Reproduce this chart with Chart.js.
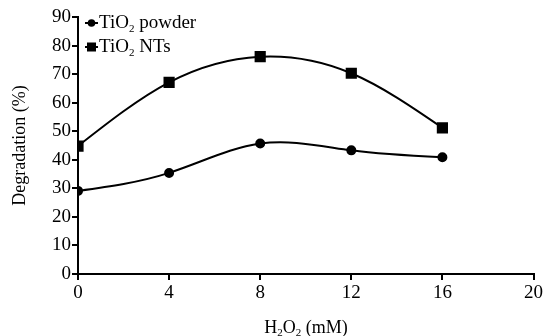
<!DOCTYPE html>
<html>
<head>
<meta charset="utf-8">
<script src="https://cdn.jsdelivr.net/npm/chart.js@4"></script>
<style>
  html, body { margin: 0; padding: 0; background: #fff; }
  #wrap { width: 545px; height: 336px; }
</style>
</head>
<body>
<div id="wrap"><canvas id="chart" width="545" height="336"></canvas></div>
<script>
// H2O2 concentration (mM)
const concentrations = [0, 4, 8, 12, 16];
const powderValues = [29.1, 35.4, 45.7, 43.3, 40.9];
const ntsValues = [44.8, 67.1, 76.1, 70.3, 51.2];
const seriesNames = ['powder', 'NTs'];

const serif = 'Liberation Serif';

function toPoints(values) {
    return concentrations.map((x, i) => ({ x: x, y: values[i] }));
}

// replace chart.js bezier handles with a natural cubic spline (pixel space)
const naturalSpline = {
    id: 'naturalSpline',
    beforeDatasetDraw(chart, args) {
        const meta = args.meta;
        const line = meta.dataset;
        line.updateControlPoints(chart.chartArea, 'x');
        const pts = meta.data;
        const n = pts.length;
        if (n < 3) return;
        const xs = pts.map(p => p.x);
        const ys = pts.map(p => p.y);
        const h = [];
        for (let i = 0; i < n - 1; i++) h.push(xs[i + 1] - xs[i]);
        // tridiagonal solve for second derivatives, M0 = Mn-1 = 0
        const a = [], b = [], c = [], d = [];
        for (let i = 1; i < n - 1; i++) {
            a.push(h[i - 1]);
            b.push(2 * (h[i - 1] + h[i]));
            c.push(h[i]);
            d.push(6 * ((ys[i + 1] - ys[i]) / h[i] - (ys[i] - ys[i - 1]) / h[i - 1]));
        }
        const m = d.length;
        for (let i = 1; i < m; i++) {
            const w = a[i] / b[i - 1];
            b[i] -= w * c[i - 1];
            d[i] -= w * d[i - 1];
        }
        const inner = new Array(m);
        for (let i = m - 1; i >= 0; i--) {
            inner[i] = (d[i] - (i < m - 1 ? c[i] * inner[i + 1] : 0)) / b[i];
        }
        const M = [0, ...inner, 0];
        const slope = [];
        for (let i = 0; i < n; i++) {
            if (i < n - 1) {
                slope.push((ys[i + 1] - ys[i]) / h[i] - h[i] * (2 * M[i] + M[i + 1]) / 6);
            } else {
                slope.push((ys[i] - ys[i - 1]) / h[i - 1] + h[i - 1] * (M[i - 1] + 2 * M[i]) / 6);
            }
        }
        for (let i = 0; i < n; i++) {
            const p = pts[i];
            const hl = i > 0 ? h[i - 1] : 0;
            const hr = i < n - 1 ? h[i] : 0;
            p.cp1x = xs[i] - hl / 3;
            p.cp1y = ys[i] - slope[i] * hl / 3;
            p.cp2x = xs[i] + hr / 3;
            p.cp2y = ys[i] + slope[i] * hr / 3;
        }
    }
};

// legend drawn inside chart area, with a subscript 2 in TiO2
const insideLegend = {
    id: 'insideLegend',
    afterDraw(chart) {
        const ctx = chart.ctx;
        const left = chart.chartArea.left + 7;
        const rows = [23, 47];
        ctx.save();
        chart.data.datasets.forEach((ds, i) => {
            const y = rows[i];
            ctx.strokeStyle = '#000';
            ctx.lineWidth = 2;
            ctx.beginPath();
            ctx.moveTo(left, y);
            ctx.lineTo(left + 13, y);
            ctx.stroke();
            ctx.fillStyle = '#000';
            if (ds.pointStyle === 'rect') {
                ctx.fillRect(left + 2, y - 4.5, 9, 9);
            } else {
                ctx.beginPath();
                ctx.arc(left + 6.5, y, 3.8, 0, Math.PI * 2);
                ctx.fill();
            }
            let x = left + 14;
            ctx.textBaseline = 'middle';
            ctx.textAlign = 'left';
            ctx.font = '19px ' + serif;
            ctx.fillText('TiO', x, y);
            x += ctx.measureText('TiO').width;
            ctx.font = '11px ' + serif;
            ctx.fillText('2', x, y + 6);
            x += ctx.measureText('2').width;
            ctx.font = '19px ' + serif;
            ctx.fillText(' ' + seriesNames[i], x, y);
        });
        ctx.restore();
    }
};

// x axis title with subscripts
const xTitle = {
    id: 'xTitle',
    afterDraw(chart) {
        const ctx = chart.ctx;
        const parts = [['H', 18], ['2', 11], ['O', 18], ['2', 11], [' (mM)', 18]];
        ctx.save();
        ctx.fillStyle = '#000';
        ctx.textBaseline = 'middle';
        ctx.textAlign = 'left';
        let total = 0;
        parts.forEach(p => { ctx.font = p[1] + 'px ' + serif; total += ctx.measureText(p[0]).width; });
        let x = 306 - total / 2;
        const y = 328;
        parts.forEach(p => {
            ctx.font = p[1] + 'px ' + serif;
            ctx.fillText(p[0], x, p[1] < 18 ? y + 5 : y);
            x += ctx.measureText(p[0]).width;
        });
        ctx.restore();
    }
};

new Chart(document.getElementById('chart'), {
    type: 'line',
    data: {
        datasets: [{
            label: 'TiO2 powder',
            data: toPoints(powderValues),
            borderColor: '#000',
            backgroundColor: '#000',
            borderWidth: 2,
            pointStyle: 'circle',
            pointRadius: 4,
            tension: 0.4,
            capBezierPoints: false
        }, {
            label: 'TiO2 NTs',
            data: toPoints(ntsValues),
            borderColor: '#000',
            backgroundColor: '#000',
            borderWidth: 2,
            pointStyle: 'rect',
            pointRadius: 6.5,
            tension: 0.4,
            capBezierPoints: false
        }]
    },
    options: {
        responsive: false,
        animation: false,
        layout: { padding: { top: 17, right: 10, left: 0, bottom: 0 } },
        plugins: {
            legend: { display: false },
            tooltip: { enabled: false }
        },
        scales: {
            x: {
                type: 'linear',
                min: 0,
                max: 20,
                ticks: { stepSize: 4, color: '#000', font: { family: serif, size: 19 }, padding: 2 },
                grid: { drawOnChartArea: false, drawTicks: true, tickLength: 6, color: '#000', lineWidth: 2 },
                border: { display: true, color: '#000', width: 2 },
                afterFit(scale) { scale.height = 62; }
            },
            y: {
                min: 0,
                max: 90,
                ticks: { stepSize: 10, color: '#000', font: { family: serif, size: 19 }, padding: 1 },
                grid: { drawOnChartArea: false, drawTicks: true, tickLength: 6, color: '#000', lineWidth: 2 },
                border: { display: true, color: '#000', width: 2 },
                title: { display: true, text: 'Degradation (%)', color: '#000', font: { family: serif, size: 18, lineHeight: 1.2 }, padding: { top: 9, bottom: 0 } },
                afterFit(scale) { scale.width = 78; }
            }
        }
    },
    plugins: [naturalSpline, insideLegend, xTitle]
});
</script>
</body>
</html>
